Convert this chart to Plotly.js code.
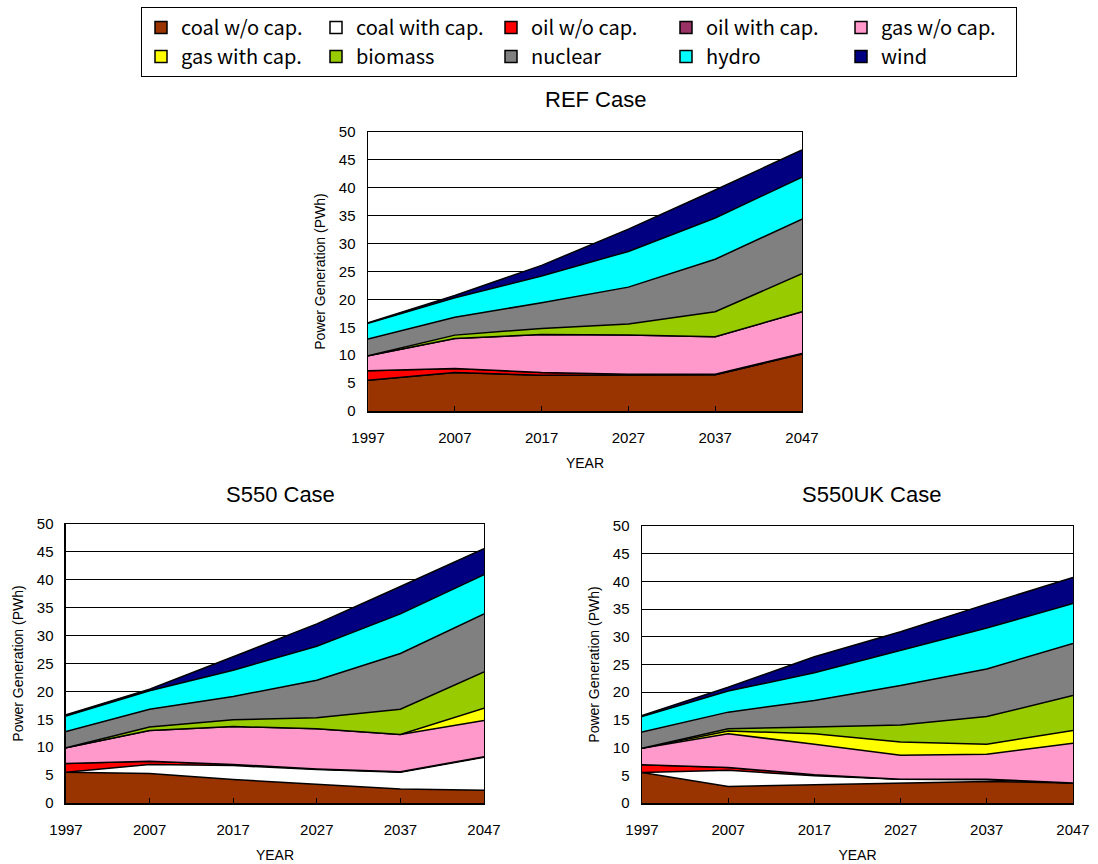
<!DOCTYPE html>
<html><head><meta charset="utf-8">
<script src="https://cdn.plot.ly/plotly-3.0.1.min.js"></script>
<style>body{margin:0;background:#fff}</style>
</head><body><div id="chart" style="width:1098px;height:864px"></div>
<script>
// ---------- data ----------
const years = [1997, 2007, 2017, 2027, 2037, 2047];
const yTicks = [0, 5, 10, 15, 20, 25, 30, 35, 40, 45, 50];
const sourceNames = ['coal w/o cap.', 'coal with cap.', 'oil w/o cap.', 'oil with cap.', 'gas w/o cap.',
                     'gas with cap.', 'biomass', 'nuclear', 'hydro', 'wind'];
const caseTitles = ['REF Case', 'S550 Case', 'S550UK Case'];

// REF case (PWh)
const refCoalWo  = [5.5, 6.9, 6.4, 6.4, 6.5, 10.2];
const refCoalCap = [0, 0, 0, 0, 0, 0];
const refOilWo   = [1.7, 0.7, 0.5, 0.2, 0.1, 0.1];
const refOilCap  = [0, 0, 0, 0, 0, 0];
const refGasWo   = [2.7, 5.4, 6.8, 7.0, 6.7, 7.5];
const refGasCap  = [0, 0, 0, 0, 0, 0];
const refBiomass = [0, 0.6, 1.1, 2.0, 4.5, 6.8];
const refNuclear = [3.0, 3.2, 4.6, 6.6, 9.4, 9.8];
const refHydro   = [2.8, 3.5, 4.8, 6.4, 7.4, 7.5];
const refWind    = [0.1, 0.4, 1.9, 4.0, 5.0, 4.9];

// S550 case (PWh)
const s550CoalWo  = [5.5, 5.3, 4.2, 3.3, 2.5, 2.3];
const s550CoalCap = [0, 1.6, 2.5, 2.7, 3.0, 5.9];
const s550OilWo   = [1.6, 0.6, 0.2, 0.1, 0.1, 0.1];
const s550OilCap  = [0, 0, 0, 0, 0, 0];
const s550GasWo   = [2.8, 5.5, 6.8, 7.2, 6.7, 6.5];
const s550GasCap  = [0, 0, 0, 0, 0, 2.2];
const s550Biomass = [0, 0.6, 1.2, 2.0, 4.5, 6.5];
const s550Nuclear = [2.9, 3.2, 4.2, 6.7, 10.0, 10.4];
const s550Hydro   = [2.8, 3.3, 4.7, 6.1, 7.1, 7.0];
const s550Wind    = [0.2, 0.3, 2.4, 4.0, 4.9, 4.7];

// S550UK case (PWh)
const ukCoalWo  = [5.5, 3.0, 3.3, 3.6, 3.9, 3.6];
const ukCoalCap = [0, 2.9, 1.6, 0.7, 0.3, 0];
const ukOilWo   = [1.4, 0.5, 0.2, 0.0, 0.1, 0.0];
const ukOilCap  = [0, 0, 0, 0, 0, 0];
const ukGasWo   = [3.0, 6.1, 5.5, 4.3, 4.5, 7.2];
const ukGasCap  = [0, 0.5, 1.9, 2.4, 1.8, 2.3];
const ukBiomass = [0, 0.4, 1.2, 3.1, 5.0, 6.3];
const ukNuclear = [2.9, 3.0, 4.8, 7.1, 8.6, 9.4];
const ukHydro   = [2.8, 3.8, 5.0, 6.4, 7.4, 7.2];
const ukWind    = [0.2, 0.7, 2.9, 3.3, 4.3, 4.7];

// ---------- styling ----------
const fillColors = ['#993300', '#FFFFFF', '#FF0000', '#993366', '#FF99CC',
                    '#FFFF00', '#99CC00', '#808080', '#00FFFF', '#000080'];

const cases = [
  {axes: ['x', 'y'],   group: 'ref',  series: [refCoalWo, refCoalCap, refOilWo, refOilCap, refGasWo, refGasCap, refBiomass, refNuclear, refHydro, refWind]},
  {axes: ['x2', 'y2'], group: 's550', series: [s550CoalWo, s550CoalCap, s550OilWo, s550OilCap, s550GasWo, s550GasCap, s550Biomass, s550Nuclear, s550Hydro, s550Wind]},
  {axes: ['x3', 'y3'], group: 'uk',   series: [ukCoalWo, ukCoalCap, ukOilWo, ukOilCap, ukGasWo, ukGasCap, ukBiomass, ukNuclear, ukHydro, ukWind]}
];

const traces = [];
cases.forEach(c => {
  c.series.forEach((vals, i) => {
    traces.push({
      type: 'scatter', mode: 'lines', x: years, y: vals,
      name: sourceNames[i], stackgroup: c.group,
      xaxis: c.axes[0], yaxis: c.axes[1],
      line: {color: '#000000', width: 1.5, shape: 'linear'},
      fillcolor: fillColors[i], showlegend: false
    });
  });
});
// legend keys (square swatches as in the original); 5 legend columns of 2 rows
sourceNames.forEach((n, i) => {
  traces.push({
    type: 'bar', x: [null], y: [null], name: n, legendgroup: 'col' + (i % 5),
    xaxis: 'x', yaxis: 'y',
    marker: {color: fillColors[i], line: {color: '#000000', width: 1.5}},
    showlegend: true, hoverinfo: 'skip'
  });
});

const tickFont = {family: 'Liberation Sans, Arial, sans-serif', size: 15, color: '#000'};
function xAxis(domain, anchor) {
  return {
    domain: domain, anchor: anchor, range: [1997, 2047], tickvals: years, ticktext: years.map(String),
    ticks: 'inside', ticklen: 5, tickcolor: '#000', tickwidth: 1,
    showline: true, linecolor: '#000', linewidth: 1.5, mirror: true,
    showgrid: false, zeroline: false, fixedrange: true,
    tickfont: tickFont, ticklabelstandoff: 12,
    title: {text: 'YEAR', font: {family: 'Liberation Sans, Arial, sans-serif', size: 14, color: '#000'}, standoff: 13}
  };
}
function yAxis(domain, anchor) {
  return {
    domain: domain, anchor: anchor, range: [0, 50], tickvals: yTicks,
    ticks: '', showline: true, linecolor: '#000', linewidth: 1.5, mirror: true,
    showgrid: true, gridcolor: '#000', gridwidth: 1, zeroline: false, fixedrange: true,
    tickfont: tickFont, ticklabelstandoff: 8,
    title: {text: 'Power Generation (PWh)', font: {family: 'Liberation Sans, Arial, sans-serif', size: 14, color: '#000'}, standoff: 10}
  };
}

const titleFont = {family: 'Liberation Sans, Arial, sans-serif', size: 22, color: '#000'};
const layout = {
  width: 1098, height: 864, autosize: false,
  margin: {l: 0, r: 0, t: 0, b: 0},
  paper_bgcolor: '#fff', plot_bgcolor: '#fff',
  showlegend: true,
  legend: {
    orientation: 'h', x: 141 / 1098, xanchor: 'left', y: 0.992, yanchor: 'top',
    bordercolor: '#000', borderwidth: 1, bgcolor: '#fff',
    font: {family: 'Noto Sans CJK JP, sans-serif', size: 20, color: '#000'},
    entrywidth: 130, entrywidthmode: 'pixels', itemwidth: 30,
    traceorder: 'grouped', tracegroupgap: 0
  },
  xaxis: xAxis([0.3352, 0.7304], 'y'),
  yaxis: yAxis([0.5243, 0.8472], 'x'),
  xaxis2: xAxis([0.0601, 0.4408], 'y2'),
  yaxis2: yAxis([0.0706, 0.3935], 'x2'),
  xaxis3: xAxis([0.5847, 0.9772], 'y3'),
  yaxis3: yAxis([0.0706, 0.3912], 'x3'),
  annotations: [
    {text: caseTitles[0], xref: 'paper', yref: 'paper', x: 595 / 1098, y: 1 - 99 / 864, showarrow: false, font: titleFont, xanchor: 'center', yanchor: 'middle'},
    {text: caseTitles[1], xref: 'paper', yref: 'paper', x: 280 / 1098, y: 1 - 494 / 864, showarrow: false, font: titleFont, xanchor: 'center', yanchor: 'middle'},
    {text: caseTitles[2], xref: 'paper', yref: 'paper', x: 871 / 1098, y: 1 - 494 / 864, showarrow: false, font: titleFont, xanchor: 'center', yanchor: 'middle'}
  ]
};

Plotly.newPlot('chart', traces, layout, {displayModeBar: false, staticPlot: true});
</script></body></html>
